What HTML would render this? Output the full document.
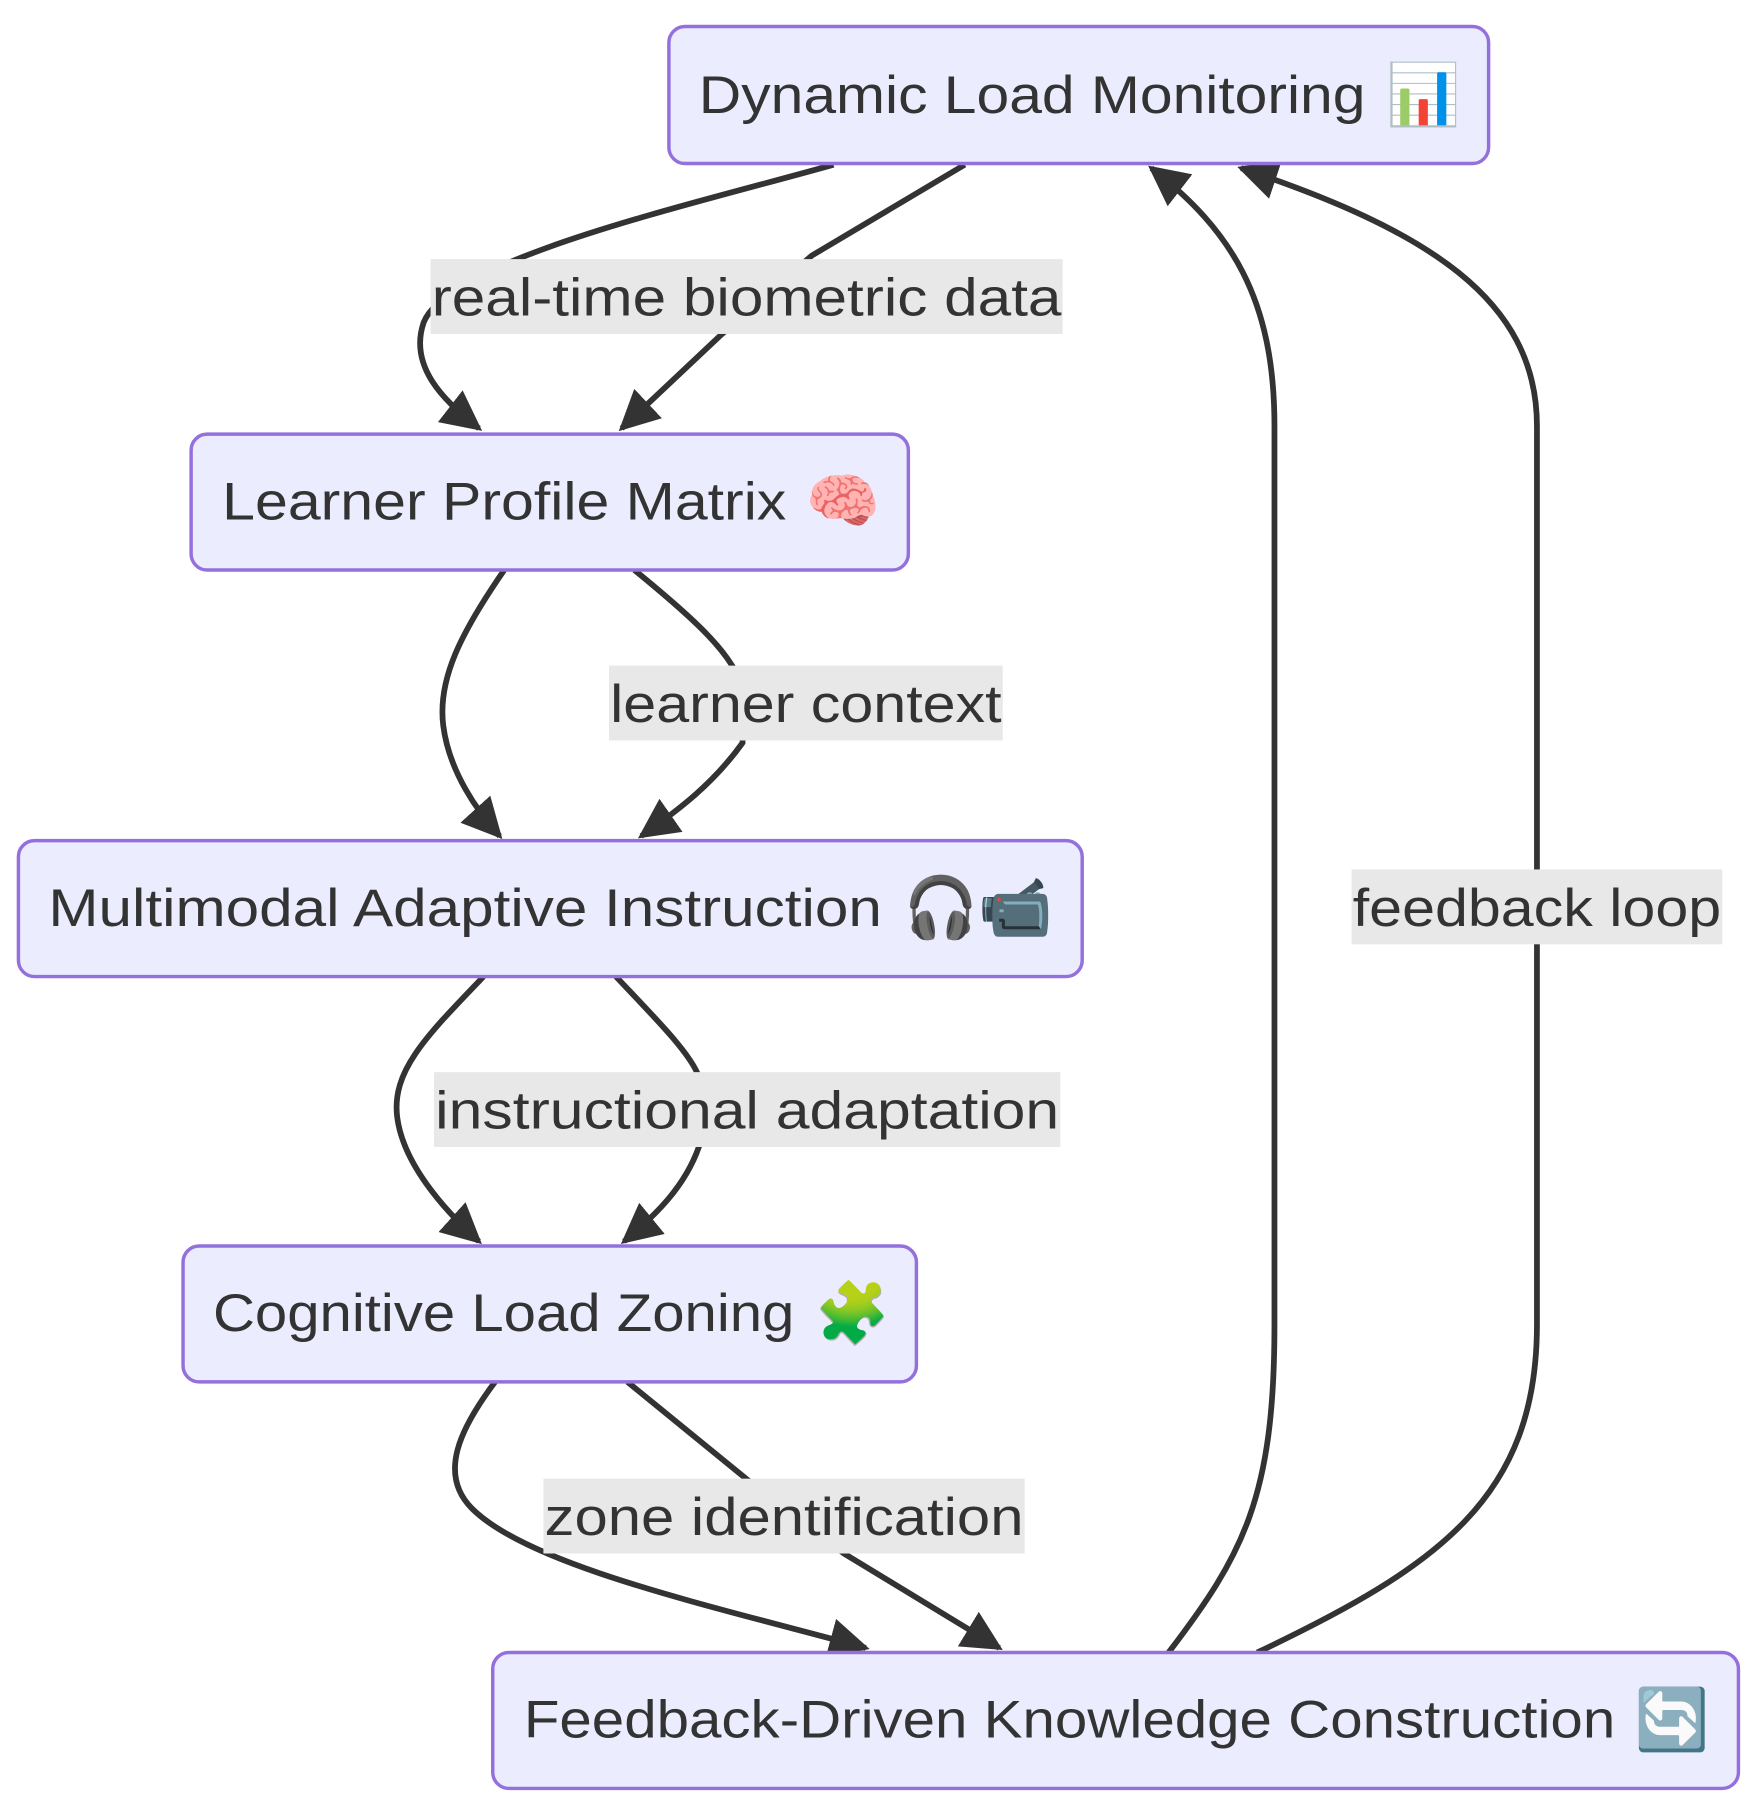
<!DOCTYPE html>
<html><head><meta charset="utf-8"><style>html,body{margin:0;padding:0;background:#fff}svg{display:block}</style></head>
<body>
<svg width="1758" height="1808" viewBox="0 0 1527 1570" preserveAspectRatio="none" xmlns="http://www.w3.org/2000/svg">
<defs>
<marker id="a" viewBox="0 0 10 10" refX="9" refY="5" markerWidth="7" markerHeight="7" markerUnits="strokeWidth" orient="auto"><path d="M0,0 L10,5 L0,10 z" fill="#333"/></marker>
</defs>
<g fill="none" stroke="#333" stroke-width="5" marker-end="url(#a)">
<path d="M724,143 C600,178 390,225 368,280 C355,318 385,348 416,372"/>
<path d="M838,143 L705,222 L625,292 L540,372"/>
<path d="M438,495 C400,550 380,590 385,630 C390,670 415,705 434,726"/>
<path d="M551,495 C600,535 640,570 645,600 L645,645 C620,680 590,703 557,726"/>
<path d="M420,848 C370,900 340,930 345,970 C350,1010 385,1050 416,1078"/>
<path d="M535,848 C570,885 600,915 607,935 L607,996 C595,1030 570,1055 542,1078"/>
<path d="M430,1200 C400,1240 380,1280 410,1310 C460,1360 620,1395 752,1431"/>
<path d="M545,1200 L648,1284 L733,1349 L868,1431"/>
<path d="M1015,1435 C1080,1350 1107,1300 1107,1150 L1107,370 C1107,260 1070,200 1000,146"/>
<path d="M1092,1435 C1250,1360 1335,1300 1335,1150 L1335,370 C1335,260 1240,200 1078,146"/>
</g>
<g fill="#ECECFF" stroke="#9370DB" stroke-width="3">
<rect x="581" y="23" width="712" height="119" rx="14"/>
<rect x="166" y="377" width="623" height="118" rx="14"/>
<rect x="16" y="730" width="924" height="118" rx="14"/>
<rect x="159" y="1082" width="637" height="118" rx="14"/>
<rect x="428" y="1435" width="1082" height="118" rx="14"/>
</g>
<g fill="#e8e8e8">
<rect x="374" y="225" width="549" height="65"/>
<rect x="529" y="578" width="342" height="65"/>
<rect x="377" y="931" width="544" height="65"/>
<rect x="472" y="1284" width="418" height="65"/>
<rect x="1174" y="755" width="322" height="65"/>
</g>
<g font-family="Liberation Sans, DejaVu Sans, sans-serif" font-size="46" fill="#333">
<text x="607" y="98" textLength="579" lengthAdjust="spacingAndGlyphs">Dynamic Load Monitoring</text><text x="1204" y="100" font-size="52">📊</text>
<text x="193" y="451" textLength="490" lengthAdjust="spacingAndGlyphs">Learner Profile Matrix</text><text x="700" y="453" font-size="52">🧠</text>
<text x="42" y="804" textLength="724" lengthAdjust="spacingAndGlyphs">Multimodal Adaptive Instruction</text><text x="785" y="806" font-size="52">🎧📹</text>
<text x="185" y="1156" textLength="505" lengthAdjust="spacingAndGlyphs">Cognitive Load Zoning</text><text x="708" y="1158" font-size="52">🧩</text>
<text x="455" y="1509" textLength="948" lengthAdjust="spacingAndGlyphs">Feedback-Driven Knowledge Construction</text><text x="1420" y="1511" font-size="52">🔄</text>
<text x="375" y="274" textLength="547" lengthAdjust="spacingAndGlyphs">real-time biometric data</text>
<text x="530" y="627" textLength="340" lengthAdjust="spacingAndGlyphs">learner context</text>
<text x="378" y="980" textLength="542" lengthAdjust="spacingAndGlyphs">instructional adaptation</text>
<text x="473" y="1333" textLength="416" lengthAdjust="spacingAndGlyphs">zone identification</text>
<text x="1175" y="804" textLength="320" lengthAdjust="spacingAndGlyphs">feedback loop</text>
</g>
</svg>
</body></html>
